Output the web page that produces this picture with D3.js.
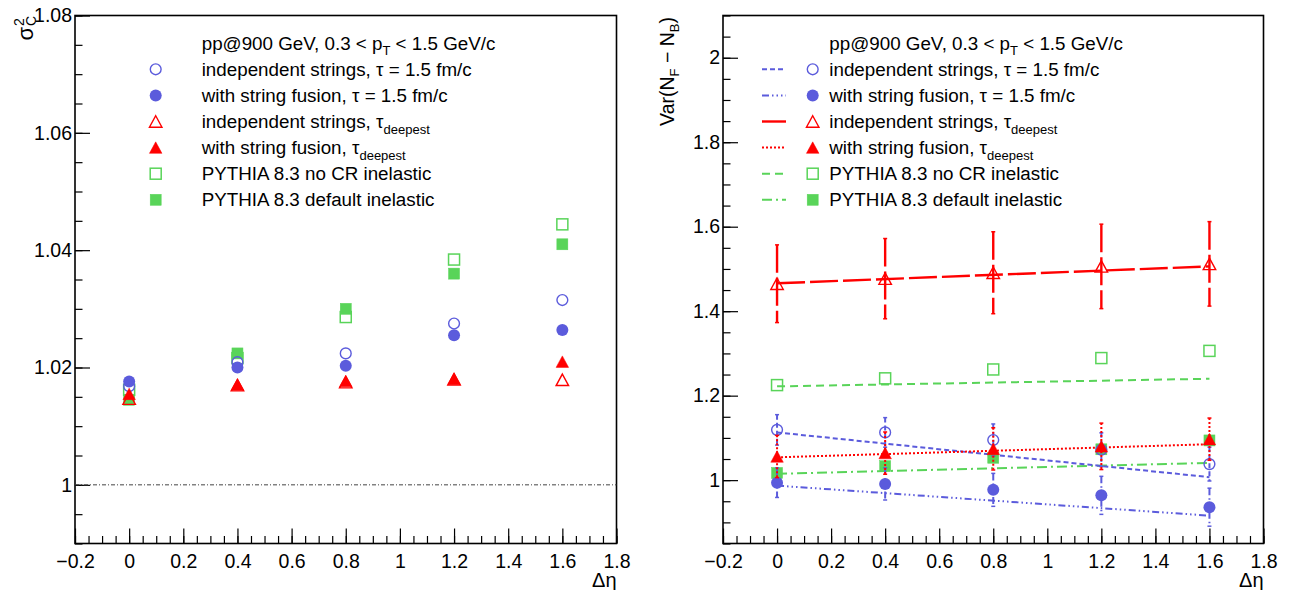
<!DOCTYPE html>
<html><head><meta charset="utf-8">
<script src="https://cdn.jsdelivr.net/npm/d3@7"></script>
<style>
html,body{margin:0;padding:0;background:#fff;}
svg{display:block;font-family:"Liberation Sans",Arial,Helvetica,sans-serif;}
</style></head>
<body><svg id="c" width="1299" height="590"></svg>
<script>
// ---------------- data ----------------
const eta = [0, 0.4, 0.8, 1.2, 1.6];
const xTickLabels = [-0.2, 0, 0.2, 0.4, 0.6, 0.8, 1, 1.2, 1.4, 1.6, 1.8];
const leftYTicks = [1, 1.02, 1.04, 1.06, 1.08];
const rightYTicks = [1, 1.2, 1.4, 1.6, 1.8, 2];

// left panel: sigma^2_C
const leftIndepTau   = [1.0168, 1.0209, 1.0224, 1.0275, 1.0315];
const leftFusionTau  = [1.0176, 1.0200, 1.0203, 1.0255, 1.0264];
const leftIndepDeep  = [1.0147, 1.0170, 1.0175, 1.0180, 1.0179];
const leftFusionDeep = [1.0155, 1.0171, 1.0177, 1.0181, 1.0210];
const leftPythiaNoCR = [1.0162, 1.0216, 1.0286, 1.0384, 1.0444];
const leftPythiaDef  = [1.0145, 1.0224, 1.0300, 1.0360, 1.0410];

// right panel: Var(N_F - N_B)
const rightIndepTau      = [1.119, 1.113, 1.095, 1.072, 1.038];
const rightIndepTauErr   = [0.036, 0.035, 0.038, 0.040, 0.040];
const rightFusionTau     = [0.994, 0.991, 0.977, 0.964, 0.936];
const rightFusionTauErr  = [0.035, 0.038, 0.039, 0.045, 0.045];
const rightIndepDeep     = [1.465, 1.477, 1.491, 1.506, 1.512];
const rightIndepDeepErr  = [0.092, 0.095, 0.097, 0.100, 0.100];
const rightFusionDeep    = [1.056, 1.064, 1.074, 1.080, 1.097];
const rightFusionDeepErr = [0.050, 0.050, 0.050, 0.055, 0.050];
const rightPythiaNoCR    = [1.225, 1.241, 1.262, 1.289, 1.306];
const rightPythiaDef     = [1.017, 1.033, 1.053, 1.073, 1.094];
// linear fit lines (value at first and last eta), order: indepTau, fusionTau, indepDeep, fusionDeep, noCR, default
const fitStart = [1.113, 0.987, 1.466, 1.054, 1.222, 1.015];
const fitEnd   = [1.007, 0.916, 1.506, 1.085, 1.240, 1.041];

const legendLabels = [
  ["independent strings, τ = 1.5 fm/c", null],
  ["with string fusion, τ = 1.5 fm/c", null],
  ["independent strings, τ", "deepest"],
  ["with string fusion, τ", "deepest"],
  ["PYTHIA 8.3 no CR inelastic", null],
  ["PYTHIA 8.3 default inelastic", null]
];

// ---------------- styles ----------------
const BLUE = "#5b5bdc", RED = "#ff0000", GREEN = "#59d459";
const styles = [
  {m:"oc", c:BLUE,  dash:"5,3",               lw:2},
  {m:"fc", c:BLUE,  dash:"7,3,1.5,3,1.5,3,1.5,3", lw:2},
  {m:"ot", c:RED,   dash:"28,5",              lw:2.4},
  {m:"ft", c:RED,   dash:"2,2",               lw:2},
  {m:"os", c:GREEN, dash:"8,5",               lw:2},
  {m:"fs", c:GREEN, dash:"10,4,2,4",          lw:2}
];

const svg = d3.select("#c");
const FS = 18.8, TFS = 19.5;

function marker(g, m, cx, cy, c){
  if (m === "oc") g.append("circle").attr("cx",cx).attr("cy",cy).attr("r",5.4).attr("fill","none").attr("stroke",c).attr("stroke-width",1.4);
  else if (m === "fc") g.append("circle").attr("cx",cx).attr("cy",cy).attr("r",6).attr("fill",c);
  else if (m === "ot" || m === "ft") {
    const w=12.5, h=11.5;
    const p = `M${cx},${cy-h/2}L${cx+w/2},${cy+h/2}L${cx-w/2},${cy+h/2}Z`;
    g.append("path").attr("d",p).attr("fill", m==="ft"?c:"none").attr("stroke",c).attr("stroke-width", m==="ft"?0.5:1.4).attr("stroke-linejoin","miter");
  } else {
    const s = 11;
    g.append("rect").attr("x",cx-s/2).attr("y",cy-s/2).attr("width",s).attr("height",s)
      .attr("fill", m==="fs"?c:"none").attr("stroke",c).attr("stroke-width", m==="fs"?0.5:1.5);
  }
}

function panel(cfg){
  const {x0,x1,y0,y1,ydom,yMajor,yMinorStep,yFmt} = cfg;
  const x = d3.scaleLinear().domain([-0.2,1.8]).range([x0,x1]);
  const y = d3.scaleLinear().domain(ydom).range([y1,y0]);
  const g = svg.append("g");

  const xMinor = d3.range(0, 41).map(i => +(-0.2 + i*0.05).toFixed(2));
  g.append("g").attr("transform",`translate(0,${y1})`)
    .call(d3.axisBottom(x).tickValues(xMinor).tickSizeInner(-7.5).tickSizeOuter(0).tickFormat(""))
    .call(a => a.select(".domain").remove())
    .call(a => a.selectAll("line").attr("stroke","#000").attr("stroke-width",1.2));
  g.append("g").attr("transform",`translate(0,${y1})`)
    .call(d3.axisBottom(x).tickValues(xTickLabels).tickSizeInner(-15).tickSizeOuter(0).tickPadding(11)
      .tickFormat(d => String(+d.toFixed(1)).replace("-", "\u2212")))
    .call(a => a.select(".domain").remove())
    .call(a => a.selectAll("line").attr("stroke","#000").attr("stroke-width",1.2))
    .call(a => a.selectAll("text").attr("font-size",TFS).attr("fill","#000").attr("font-family","Liberation Sans, Arial, sans-serif"));

  const nMin = Math.round((ydom[1]-ydom[0])/yMinorStep);
  const yMinor = d3.range(0, nMin+1).map(i => +(ydom[0] + i*yMinorStep).toFixed(4));
  g.append("g").attr("transform",`translate(${x0},0)`)
    .call(d3.axisLeft(y).tickValues(yMinor).tickSizeInner(-7.5).tickSizeOuter(0).tickFormat(""))
    .call(a => a.select(".domain").remove())
    .call(a => a.selectAll("line").attr("stroke","#000").attr("stroke-width",1.2));
  g.append("g").attr("transform",`translate(${x0},0)`)
    .call(d3.axisLeft(y).tickValues(yMajor).tickSizeInner(-15).tickSizeOuter(0).tickPadding(3).tickFormat(yFmt))
    .call(a => a.select(".domain").remove())
    .call(a => a.selectAll("line").attr("stroke","#000").attr("stroke-width",1.2))
    .call(a => a.selectAll("text").attr("font-size",TFS).attr("fill","#000").attr("font-family","Liberation Sans, Arial, sans-serif"));

  g.append("rect").attr("x",x0).attr("y",y0).attr("width",x1-x0).attr("height",y1-y0)
    .attr("fill","none").attr("stroke","#000").attr("stroke-width",1.6);

  g.append("text").attr("x",x1).attr("y",587).attr("text-anchor","end").attr("font-size",20).text("Δη");
  return {g,x,y};
}

// ---------------- left panel ----------------
const L = panel({x0:75,x1:616.5,y0:15.5,y1:543.5,ydom:[0.99,1.08],yMajor:leftYTicks,yMinorStep:0.005,
  yFmt:d=>String(+d.toFixed(2))});
L.g.append("line").attr("x1",L.x(-0.2)).attr("x2",L.x(1.8)).attr("y1",L.y(1)).attr("y2",L.y(1))
  .attr("stroke","#444").attr("stroke-width",1).attr("stroke-dasharray","4,2,1,2");
const leftSeries = [leftPythiaNoCR, leftPythiaDef, leftIndepTau, leftFusionTau, leftIndepDeep, leftFusionDeep];
const leftStyleIdx = [4,5,0,1,2,3];
leftSeries.forEach((arr,k) => {
  const st = styles[leftStyleIdx[k]];
  arr.forEach((v,i) => marker(L.g, st.m, L.x(eta[i]), L.y(v), st.c));
});
const lt = svg.append("g").attr("transform","translate(33,15) rotate(-90)");
lt.append("text").attr("x",-12).attr("y",0).attr("text-anchor","end").attr("font-size",22).text("σ");
lt.append("text").attr("x",-11).attr("y",-9).attr("font-size",14).text("2");
lt.append("text").attr("x",-11).attr("y",3).attr("font-size",14).text("C");

// ---------------- right panel ----------------
const R = panel({x0:723,x1:1263.5,y0:15.5,y1:543.5,ydom:[0.85,2.1],yMajor:rightYTicks,yMinorStep:0.05,
  yFmt:d=>String(+d.toFixed(1))});
const rightVals = [rightIndepTau, rightFusionTau, rightIndepDeep, rightFusionDeep, rightPythiaNoCR, rightPythiaDef];
const rightErrs = [rightIndepTauErr, rightFusionTauErr, rightIndepDeepErr, rightFusionDeepErr, null, null];
const drawOrder = [4,5,0,1,2,3];
drawOrder.forEach(k => {
  const st = styles[k];
  R.g.append("line").attr("x1",R.x(eta[0])).attr("x2",R.x(eta[eta.length-1]))
    .attr("y1",R.y(fitStart[k])).attr("y2",R.y(fitEnd[k]))
    .attr("stroke",st.c).attr("stroke-width",st.lw).attr("stroke-dasharray",st.dash);
});
drawOrder.forEach(k => {
  const st = styles[k];
  const errs = rightErrs[k];
  rightVals[k].forEach((v,i) => {
    const cx = R.x(eta[i]);
    if (errs) {
      const e = errs[i];
      R.g.append("line").attr("x1",cx).attr("x2",cx).attr("y1",R.y(v+e)).attr("y2",R.y(v-e))
        .attr("stroke",st.c).attr("stroke-width",st.lw).attr("stroke-dasharray",st.dash);
      [v+e, v-e].forEach(t => R.g.append("line").attr("x1",cx-2).attr("x2",cx+2).attr("y1",R.y(t)).attr("y2",R.y(t))
        .attr("stroke",st.c).attr("stroke-width",1.5));
    }
    marker(R.g, st.m, cx, R.y(v), st.c);
  });
});
const rt = svg.append("g").attr("transform","translate(674,17) rotate(-90)");
const rtt = rt.append("text").attr("x",0).attr("y",0).attr("text-anchor","end").attr("font-size",TFS);
rtt.append("tspan").text("Var(N");
rtt.append("tspan").attr("font-size",13).attr("dy",5).text("F");
rtt.append("tspan").attr("dy",-5).text(" \u2212 N");
rtt.append("tspan").attr("font-size",13).attr("dy",5).text("B");
rtt.append("tspan").attr("dy",-5).text(")");

// ---------------- legends ----------------
function legend(tx, mx, lineX, rowY0){
  const g = svg.append("g");
  const hdr = g.append("text").attr("x",tx).attr("y",rowY0-26.1+6.5).attr("font-size",FS);
  hdr.append("tspan").text("pp@900 GeV, 0.3 < p");
  hdr.append("tspan").attr("font-size",13).attr("dy",5).text("T");
  hdr.append("tspan").attr("dy",-5).text(" < 1.5 GeV/c");
  legendLabels.forEach((lab,k) => {
    const yy = rowY0 + k*26.1;
    const st = styles[k];
    if (lineX) g.append("line").attr("x1",lineX[0]).attr("x2",lineX[1]).attr("y1",yy).attr("y2",yy)
      .attr("stroke",st.c).attr("stroke-width",st.lw).attr("stroke-dasharray",st.dash);
    marker(g, st.m, mx, yy, st.c);
    const t = g.append("text").attr("x",tx).attr("y",yy+6.5).attr("font-size",FS);
    t.append("tspan").text(lab[0]);
    if (lab[1]) t.append("tspan").attr("font-size",13).attr("dy",6).text(lab[1]);
  });
}
legend(201.7, 155.7, null, 69.3);
legend(829.3, 812.7, [762, 786], 69.3);
</script></body></html>
